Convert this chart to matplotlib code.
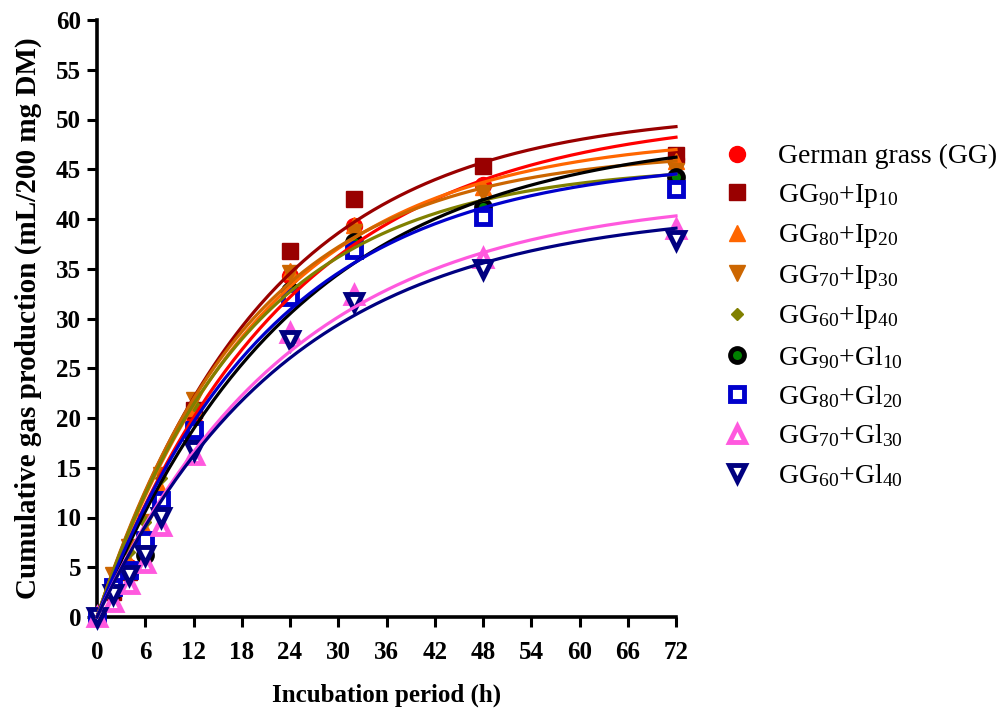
import numpy as np
import matplotlib
matplotlib.use("Agg")
import matplotlib.pyplot as plt

plt.rcParams['font.family'] = ['Liberation Serif', 'DejaVu Serif']
plt.rcParams['mathtext.fontset'] = 'custom'
plt.rcParams['mathtext.rm'] = 'Liberation Serif'
plt.rcParams['mathtext.it'] = 'Liberation Serif:italic'
plt.rcParams['mathtext.bf'] = 'Liberation Serif:bold'

# incubation times (h)
hours = [0, 2, 4, 6, 8, 12, 24, 32, 48, 72]

# measured gas production (mL/200 mg DM)
gg = [0, 2.8, 5.0, 7.2, 11.5, 19.5, 34.3, 39.3, 43.4, 46.0]
gg90_ip10 = [0, 2.5, 4.5, 7.4, 11.5, 20.8, 36.8, 42.0, 45.3, 46.4]
gg80_ip20 = [0, 3.0, 5.5, 8.7, 12.8, 21.0, 34.8, 39.4, 43.2, 45.8]
gg70_ip30 = [0, 4.2, 7.0, 9.5, 14.3, 21.8, 34.6, 38.7, 42.6, 44.8]
gg60_ip40 = [0, 3.5, 6.5, 9.5, 14.0, 21.3, 33.0, 37.8, 41.5, 43.0]
gg90_gl10 = [0, 2.6, 4.5, 6.2, 11.0, 18.2, 32.8, 37.7, 41.2, 44.2]
gg80_gl20 = [0, 3.0, 4.7, 7.7, 11.8, 18.8, 32.2, 36.9, 40.2, 43.0]
gg70_gl30 = [0, 1.5, 3.3, 5.4, 9.1, 16.3, 28.5, 32.4, 36.1, 39.0]
gg60_gl40 = [0, 2.3, 4.2, 6.2, 10.1, 16.8, 27.8, 31.7, 35.0, 37.9]

# fitted curve parameters y = b(1-exp(-c t))
fit_b = [50.7, 51.0, 48.5, 46.9, 45.5, 48.8, 46.2, 42.5, 41.1]
fit_c = [0.0419, 0.0471, 0.0481, 0.0525, 0.0528, 0.0408, 0.0460, 0.0412, 0.0418]

labels = ['German grass (GG)',
          r'GG$_{\mathrm{90}}$+Ip$_{\mathrm{10}}$',
          r'GG$_{\mathrm{80}}$+Ip$_{\mathrm{20}}$',
          r'GG$_{\mathrm{70}}$+Ip$_{\mathrm{30}}$',
          r'GG$_{\mathrm{60}}$+Ip$_{\mathrm{40}}$',
          r'GG$_{\mathrm{90}}$+Gl$_{\mathrm{10}}$',
          r'GG$_{\mathrm{80}}$+Gl$_{\mathrm{20}}$',
          r'GG$_{\mathrm{70}}$+Gl$_{\mathrm{30}}$',
          r'GG$_{\mathrm{60}}$+Gl$_{\mathrm{40}}$']
series = [gg, gg90_ip10, gg80_ip20, gg70_ip30, gg60_ip40,
          gg90_gl10, gg80_gl20, gg70_gl30, gg60_gl40]

# style per series: line colour, marker, size, face, edge, edge width
estilos = [
    ('#FF0000', 'o', 11.5, '#FF0000', '#FF0000', 1),
    ('#990000', 's', 11, '#990000', '#990000', 1),
    ('#FF6600', '^', 11.5, '#FF6600', '#FF6600', 1),
    ('#CC6600', 'v', 11.5, '#CC6600', '#CC6600', 1),
    ('#808000', 'D', 6.5, '#808000', '#808000', 1),
    ('#000000', 'o', 10, '#008000', '#000000', 3.5),
    ('#0000CC', 's', 10.5, 'white', '#0000CC', 3.5),
    ('#FF59DE', '^', 11, 'white', '#FF59DE', 3.5),
    ('#000080', 'v', 11, 'white', '#000080', 3.5),
]

fig = plt.figure(figsize=(10.08, 7.08), dpi=100)
ax = fig.add_axes([97/1008, 91/708, 579/1008, 597/708])

t = np.linspace(0, 72, 200)
for i in range(len(series)):
    col, mk, ms, fc, ec, mew = estilos[i]
    ax.plot(hours, series[i], linestyle='none', marker=mk, markersize=ms,
            markerfacecolor=fc, markeredgecolor=ec, markeredgewidth=mew,
            label=labels[i], clip_on=False, zorder=3)
for i in range(len(series)):
    col = estilos[i][0]
    ax.plot(t, fit_b[i]*(1-np.exp(-fit_c[i]*t)), color=col, linewidth=2.3,
            zorder=4, clip_on=False)

ax.set_xlim(0, 72)
ax.set_ylim(0, 60)
ax.set_xticks(np.arange(0, 73, 6))
ax.set_yticks(np.arange(0, 61, 5))
for s in ['top', 'right']:
    ax.spines[s].set_visible(False)
for s in ['left', 'bottom']:
    ax.spines[s].set_linewidth(2.6)
ax.tick_params(direction='out', length=7.5, width=2.2, labelsize=18)
ax.tick_params(axis='x', pad=10)
ax.tick_params(axis='y', pad=4)
for lab in ax.get_xticklabels() + ax.get_yticklabels():
    lab.set_fontweight('bold')

ax.set_xlabel('Incubation period (h)', fontsize=18, fontweight='bold', labelpad=14)
ax.set_ylabel('Cumulative gas production (mL/200 mg DM)', fontsize=21,
              fontweight='bold', labelpad=10)

leg = ax.legend(loc='upper left', bbox_to_anchor=(706/1008, 1-130/708),
                bbox_transform=fig.transFigure, frameon=False, fontsize=20,
                handlelength=1.2, handletextpad=0.9, labelspacing=0.45,
                borderpad=0, numpoints=1)

plt.savefig('out.png', dpi=100)
